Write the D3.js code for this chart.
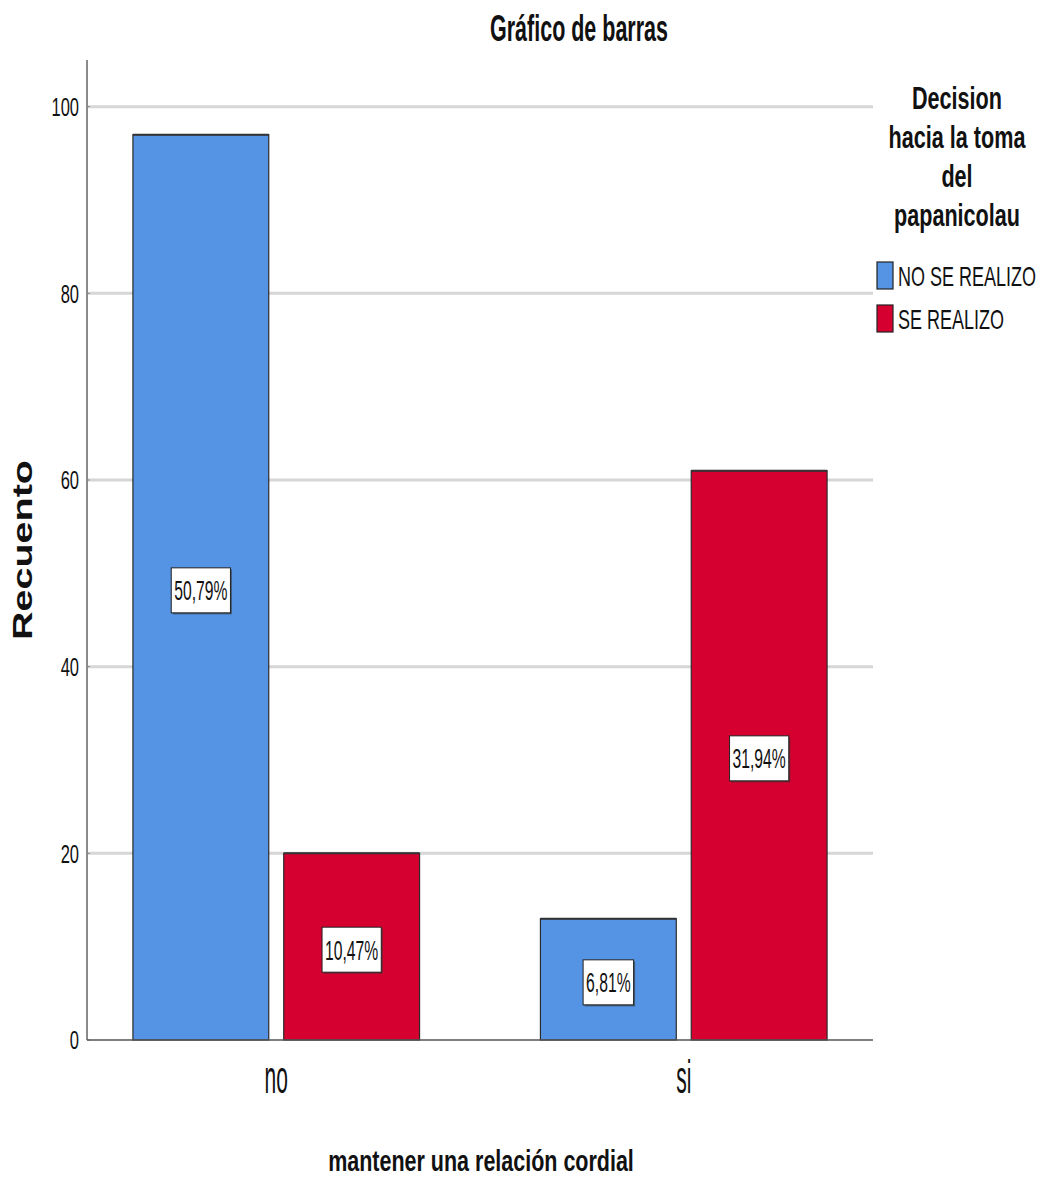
<!DOCTYPE html>
<html><head><meta charset="utf-8">
<script src="https://cdn.jsdelivr.net/npm/d3@7"></script>
<style>body{margin:0;background:#fff}svg{display:block}text{font-family:"Liberation Sans",Arial,sans-serif;fill:#111}</style>
</head><body>
<svg id="c" width="1042" height="1179"></svg>
<script>
const categories = ["no", "si"];
const series = ["NO SE REALIZO", "SE REALIZO"];
const valuesNoSeRealizo = [97, 13];
const valuesSeRealizo = [20, 61];
const percentNoSeRealizo = ["50,79%", "6,81%"];
const percentSeRealizo = ["10,47%", "31,94%"];
const yTicks = [0, 20, 40, 60, 80, 100];
const colors = ["#5594E4", "#D60030"];
const title = "Gráfico de barras";
const xTitle = "mantener una relación cordial";
const yTitle = "Recuento";
const legendTitle = ["Decision", "hacia la toma", "del", "papanicolau"];

const svg = d3.select("#c");
const L = 87, R = 873, T = 60, B = 1040;

const x0 = d3.scaleBand().domain(categories).range([L, R]).paddingInner(0.2966).paddingOuter(0.1127);
const x1 = d3.scaleBand().domain(series).range([0, x0.bandwidth()]).paddingInner(0.0993).paddingOuter(0);
const y = d3.scaleLinear().domain([0, 105]).range([B, T]);

function txt(g, x, yy, s, fs, sy, weight, anchor) {
  return g.append("text")
    .attr("transform", `translate(${x},${yy}) scale(1,${sy})`)
    .attr("font-size", fs).attr("font-weight", weight || "normal")
    .attr("text-anchor", anchor || "middle").text(s);
}

// gridlines
svg.append("g").selectAll("line").data(yTicks.filter(d => d > 0)).join("line")
  .attr("x1", L).attr("x2", R).attr("y1", d => y(d)).attr("y2", d => y(d))
  .attr("stroke", "#d6d6d6").attr("stroke-width", 3);

// y axis (via d3 axis for ticks)
const yAxis = svg.append("g").attr("transform", `translate(${L},0)`)
  .call(d3.axisLeft(y).tickValues(yTicks).tickSize(0).tickFormat(""));
yAxis.select(".domain").remove();
svg.append("line").attr("x1", L).attr("x2", L).attr("y1", T).attr("y2", B)
  .attr("stroke", "#8a8a8a").attr("stroke-width", 2);
yTicks.forEach(t => {
  const yy = y(t);
  txt(svg, 79, yy + 0.716 * 16.5 * 1.6 / 2, String(t), 16.5, 1.6, "normal", "end").attr("fill", "#222");
  svg.append("line").attr("x1", L).attr("x2", L + 3).attr("y1", yy).attr("y2", yy).attr("stroke", "#8a8a8a").attr("stroke-width", 1);
});

// bars
const data = [];
categories.forEach((c, i) => {
  data.push({cat: c, ser: series[0], v: valuesNoSeRealizo[i], p: percentNoSeRealizo[i], col: colors[0]});
  data.push({cat: c, ser: series[1], v: valuesSeRealizo[i], p: percentSeRealizo[i], col: colors[1]});
});
const bars = svg.append("g");
bars.selectAll("rect").data(data).join("rect")
  .attr("x", d => x0(d.cat) + x1(d.ser)).attr("width", x1.bandwidth())
  .attr("y", d => y(d.v)).attr("height", d => B - y(d.v))
  .attr("fill", d => d.col).attr("stroke", "#2a2a2a").attr("stroke-width", 1.2);
bars.selectAll("line.top").data(data).join("line").attr("class", "top")
  .attr("x1", d => x0(d.cat) + x1(d.ser)).attr("x2", d => x0(d.cat) + x1(d.ser) + x1.bandwidth())
  .attr("y1", d => y(d.v)).attr("y2", d => y(d.v)).attr("stroke", "#333").attr("stroke-width", 2);

// bottom axis line
svg.append("line").attr("x1", L).attr("x2", R).attr("y1", B).attr("y2", B)
  .attr("stroke", "#555").attr("stroke-width", 1.5);

// percentage labels
data.forEach(d => {
  const cx = x0(d.cat) + x1(d.ser) + x1.bandwidth() / 2;
  const cy = (y(d.v) + B) / 2 + 3;
  const g = svg.append("g");
  const fs = 15.7, sy = 1.8;
  const t = txt(g, cx, cy + 0.716 * fs * sy / 2, d.p, fs, sy, "normal", "middle");
  const w = t.node().getComputedTextLength() + 6, h = 45;
  g.insert("rect", "text").attr("x", cx - w / 2 + 1.5).attr("y", cy - h / 2 + 1.5).attr("width", w).attr("height", h).attr("fill", "#333").attr("opacity", 0.6);
  g.insert("rect", "text").attr("x", cx - w / 2).attr("y", cy - h / 2).attr("width", w).attr("height", h)
    .attr("fill", "#fff").attr("stroke", "#222").attr("stroke-width", 1);
});

// category labels
categories.forEach(c => {
  txt(svg, x0(c) + x0.bandwidth() / 2, 1093, c, 21, 2.2, "normal", "middle").attr("fill", "#222");
});

// titles
txt(svg, 579, 41, title, 21.5, 1.7, "bold", "middle");
txt(svg, 481, 1171, xTitle, 21.5, 1.4, "bold", "middle");
svg.append("text").attr("transform", "translate(32,550) rotate(-90) scale(1.41,1)")
  .attr("font-size", 28).attr("font-weight", "bold").attr("text-anchor", "middle").text(yTitle);

// legend
legendTitle.forEach((s, i) => {
  txt(svg, 957, 109 + i * 39, s, 21.6, 1.45, "bold", "middle");
});
series.forEach((s, i) => {
  const yy = 276 + i * 43;
  svg.append("rect").attr("x", 877).attr("y", yy - 14).attr("width", 16).attr("height", 27)
    .attr("fill", colors[i]).attr("stroke", "#222").attr("stroke-width", 1.2);
  txt(svg, 898, yy + 10, s, 18, 1.55, "normal", "start").attr("fill", "#222");
});
</script>
</body></html>
